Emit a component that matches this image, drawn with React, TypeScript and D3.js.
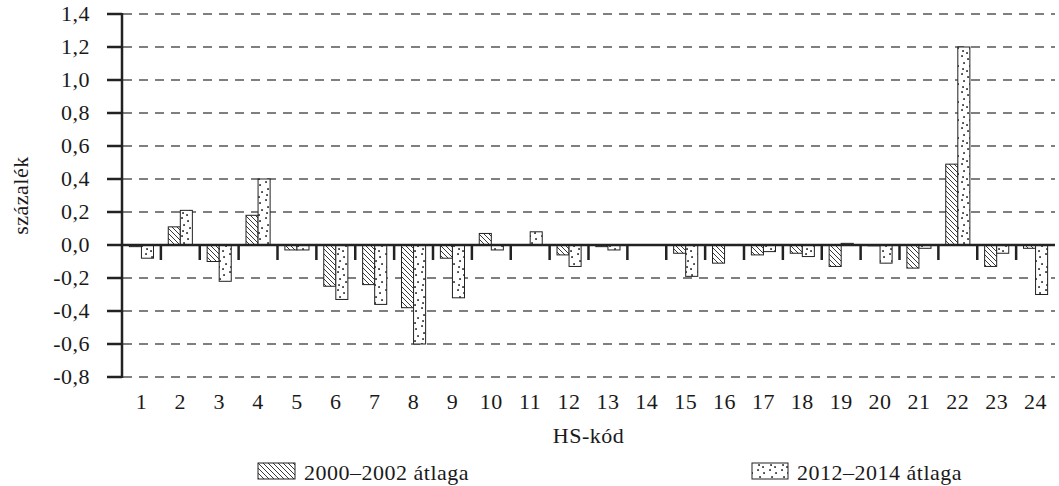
import React from "react";
import * as d3 from "d3";

const categories = ["1","2","3","4","5","6","7","8","9","10","11","12","13","14","15","16","17","18","19","20","21","22","23","24"];
const series2000 = [-0.01, 0.11, -0.10, 0.18, -0.03, -0.25, -0.24, -0.38, -0.08, 0.07, 0, -0.06, -0.01, 0, -0.05, -0.11, -0.06, -0.05, -0.13, -0.004, -0.14, 0.49, -0.13, -0.02];
const series2012 = [-0.08, 0.21, -0.22, 0.40, -0.03, -0.33, -0.36, -0.60, -0.32, -0.03, 0.08, -0.13, -0.03, 0, -0.19, 0, -0.04, -0.07, 0.01, -0.11, -0.02, 1.20, -0.05, -0.30];
const yTicks = [1.4, 1.2, 1.0, 0.8, 0.6, 0.4, 0.2, 0, -0.2, -0.4, -0.6, -0.8];
const seriesNames = ["2000–2002 átlaga", "2012–2014 átlaga"];
const yTitle = "százalék";
const xTitle = "HS-kód";

const W = 1059, H = 486;
const left = 122, right = 1055, top = 14, bottom = 377;
const FONT = "'Liberation Serif', 'Times New Roman', serif";
const FS = 22;
const LS = 0.5;

const fmt = (v: number) => v.toFixed(1).replace(".", ",");

// irregular dot positions for the dotted pattern tile (12 x 18)
const dotTile = [[2, 2], [8, 5], [4, 9], [10, 12], [3, 15], [7, 17]];

export default function App() {
  const x = d3.scaleBand<string>().domain(categories).range([left, right]).paddingInner(0).paddingOuter(0);
  const y = d3.scaleLinear().domain([-0.8, 1.4]).range([bottom, top]);
  const bw = x.bandwidth() * 0.31;
  const y0 = y(0);

  const bar = (v: number, xs: number, fill: string, key: string) => {
    if (v === 0) return null;
    const y1 = y(Math.max(v, 0));
    const h = Math.abs(y(v) - y0);
    return <rect key={key} x={xs} y={y1} width={bw} height={Math.max(h, 0.8)} fill={fill} stroke="#222" strokeWidth={1} />;
  };

  return (
    <div style={{ position: "absolute", left: 0, top: 0 }}>
      <svg width={W} height={H} style={{ display: "block", background: "#fff" }} fontFamily={FONT}>
        <defs>
          <pattern id="hatch" patternUnits="userSpaceOnUse" width={5} height={5}>
            <rect width={5} height={5} fill="#fff" />
            <path d="M0,0 L5,5 M-1,4 L1,6 M4,-1 L6,1" stroke="#222" strokeWidth={0.9} />
          </pattern>
          <pattern id="dots" patternUnits="userSpaceOnUse" width={12} height={18}>
            <rect width={12} height={18} fill="#fff" />
            {dotTile.map(([cx, cy], i) => (
              <rect key={i} x={cx - 0.8} y={cy - 0.8} width={1.7} height={1.7} fill="#222" />
            ))}
          </pattern>
        </defs>

        {/* gridlines */}
        {yTicks.filter((t) => t !== 0).map((t) => (
          <line key={"g" + t} x1={left + 1} x2={right} y1={y(t)} y2={y(t)} stroke="#555" strokeWidth={1.4} strokeDasharray="9,7" />
        ))}

        {/* bars */}
        {categories.map((c, i) => {
          const cx = (x(c) as number) + x.bandwidth() / 2;
          return (
            <g key={"b" + c}>
              {bar(series2000[i], cx - bw, "url(#hatch)", "h")}
              {bar(series2012[i], cx, "url(#dots)", "d")}
            </g>
          );
        })}

        {/* x axis line and ticks */}
        <line x1={left} x2={right} y1={y0} y2={y0} stroke="#222" strokeWidth={2.5} />
        {categories.slice(1).map((c) => (
          <line key={"xt" + c} x1={x(c) as number} x2={x(c) as number} y1={y0} y2={y0 + 15} stroke="#222" strokeWidth={2.5} />
        ))}

        {/* y axis */}
        <line x1={left} x2={left} y1={top - 1} y2={bottom + 1} stroke="#222" strokeWidth={2.5} />
        {yTicks.map((t) => (
          <g key={"yt" + t}>
            <line x1={left - 15} x2={left} y1={y(t)} y2={y(t)} stroke="#222" strokeWidth={2.5} />
            <text x={90} y={y(t)} dy="0.34em" textAnchor="end" fontSize={FS} letterSpacing={LS} fill="#1a1a1a">{fmt(t)}</text>
          </g>
        ))}

        {/* x labels */}
        {categories.map((c) => (
          <text key={"xl" + c} x={(x(c) as number) + x.bandwidth() / 2} y={409} textAnchor="middle" fontSize={FS} letterSpacing={LS} fill="#1a1a1a">{c}</text>
        ))}

        <text x={(left + right) / 2} y={443} textAnchor="middle" fontSize={FS} letterSpacing={LS} fill="#1a1a1a">{xTitle}</text>
        <text transform={`translate(28,${(top + bottom) / 2}) rotate(-90)`} textAnchor="middle" fontSize={FS} letterSpacing={LS} fill="#1a1a1a">{yTitle}</text>

        {/* legend */}
        <rect x={258} y={463} width={37} height={16} fill="url(#hatch)" stroke="#222" strokeWidth={1} />
        <text x={304} y={480} fontSize={FS} letterSpacing={LS} fill="#1a1a1a">{seriesNames[0]}</text>
        <rect x={752} y={463} width={36} height={16} fill="url(#dots)" stroke="#222" strokeWidth={1} />
        <text x={797} y={480} fontSize={FS} letterSpacing={LS} fill="#1a1a1a">{seriesNames[1]}</text>
      </svg>
    </div>
  );
}
